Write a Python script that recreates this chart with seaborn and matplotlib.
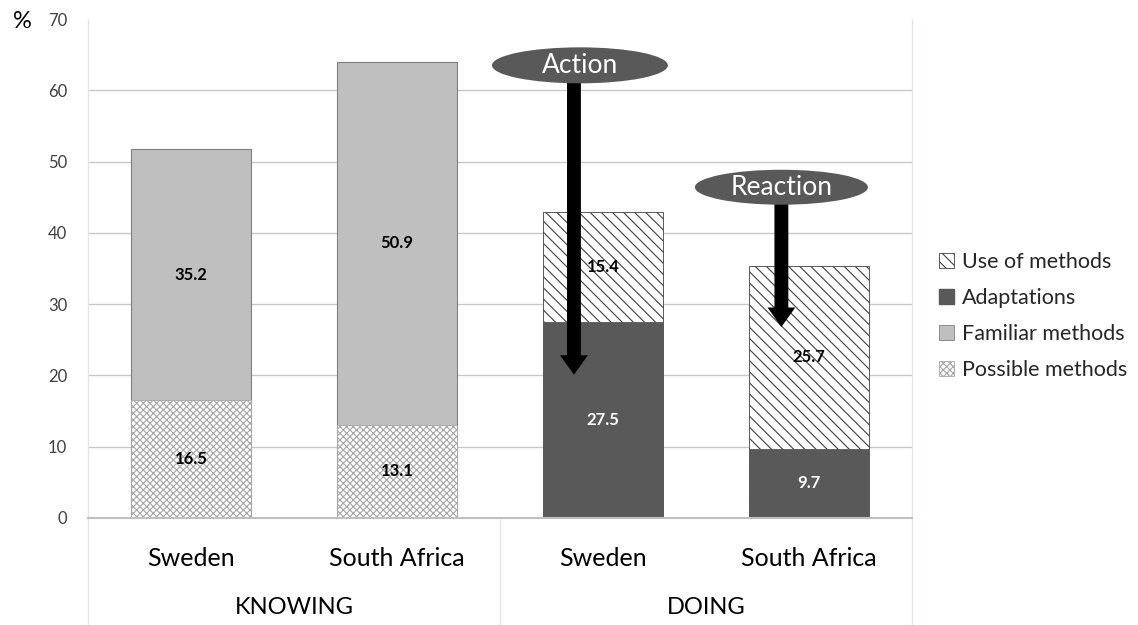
import matplotlib
matplotlib.use("Agg")
import matplotlib.pyplot as plt
import seaborn as sns
import pandas as pd
from matplotlib.patches import Ellipse, Patch, ArrowStyle

# ---- data ----
groups = ["KNOWING", "KNOWING", "DOING", "DOING"]
countries = ["Sweden", "South Africa", "Sweden", "South Africa"]
possible_methods = [16.5, 13.1]      # KNOWING bottom
familiar_methods = [35.2, 50.9]      # KNOWING top
adaptations = [27.5, 9.7]            # DOING bottom
use_of_methods = [15.4, 25.7]        # DOING top
yticks = [0, 10, 20, 30, 40, 50, 60, 70]

cat_keys = [f"{g} {c}" for g, c in zip(groups, countries)]
know_keys = cat_keys[:2]
do_keys = cat_keys[2:]

sns.set_theme(style="white")
plt.rcParams["font.family"] = ["Lato", "DejaVu Sans"]
plt.rcParams["hatch.linewidth"] = 0.8

fig = plt.figure(figsize=(11.38, 6.25), dpi=100)
ax = fig.add_axes([88 / 1138, 1 - 518 / 625, 824 / 1138, 499 / 625])

C_FAM = "#bfbfbf"
C_ADA = "#595959"
W = 0.58

# top series drawn as cumulative totals first, then bottoms over them
know_tot = pd.DataFrame({"cat": know_keys,
                         "v": [a + b for a, b in zip(possible_methods, familiar_methods)]})
do_tot = pd.DataFrame({"cat": do_keys,
                       "v": [a + b for a, b in zip(adaptations, use_of_methods)]})
know_bot = pd.DataFrame({"cat": know_keys, "v": possible_methods})
do_bot = pd.DataFrame({"cat": do_keys, "v": adaptations})

sns.barplot(data=know_tot, x="cat", y="v", order=cat_keys, color=C_FAM,
            saturation=1, width=W, edgecolor="#7f7f7f", linewidth=0.8,
            errorbar=None, ax=ax, zorder=2)
sns.barplot(data=do_tot, x="cat", y="v", order=cat_keys, color="white",
            saturation=1, width=W, edgecolor="#404040", linewidth=0.6,
            hatch="\\\\\\", errorbar=None, ax=ax, zorder=2)
sns.barplot(data=know_bot, x="cat", y="v", order=cat_keys, color="white",
            saturation=1, width=W, edgecolor="#a6a6a6", linewidth=0.6,
            hatch="xxxxx", errorbar=None, ax=ax, zorder=3)
sns.barplot(data=do_bot, x="cat", y="v", order=cat_keys, color=C_ADA,
            saturation=1, width=W, edgecolor=C_ADA, linewidth=0.6,
            errorbar=None, ax=ax, zorder=3)

# value labels
lab_kw = dict(ha="center", va="center", fontsize=12, fontweight="bold", zorder=6)
for i, (b, t) in enumerate(zip(possible_methods, familiar_methods)):
    ax.text(i, b / 2, f"{b:.1f}", color="black", **lab_kw)
    ax.text(i, b + t / 2, f"{t:.1f}", color="black", **lab_kw)
for j, (b, t) in enumerate(zip(adaptations, use_of_methods)):
    i = j + 2
    ax.text(i, b / 2, f"{b:.1f}", color="white", **lab_kw)
    ax.text(i, b + t / 2, f"{t:.1f}", color="black", **lab_kw)

# axes styling
ax.set_xlim(-0.5, 3.5)
ax.set_ylim(0, 70)
ax.set_yticks(yticks)
ax.set_yticklabels([str(v) for v in yticks], fontsize=12, color="#404040")
ax.tick_params(axis="y", length=0, pad=15)
for v in yticks[1:-1]:
    ax.axhline(v, color="#c8c8c8", linewidth=1.0, zorder=0)
ax.set_xticks(range(4))
ax.set_xticklabels(countries, fontsize=18, color="black")
ax.tick_params(axis="x", length=0, pad=21)
ax.set_xlabel("")
ax.set_ylabel("")
for s in ["top", "right"]:
    ax.spines[s].set_visible(False)
ax.spines["left"].set_color("#e2e6ea")
ax.spines["left"].set_linewidth(1.0)
ax.spines["bottom"].set_color("#bfbfbf")
ax.spines["bottom"].set_linewidth(1.5)
ax.spines["bottom"].set_zorder(5)

# category separators below the axis
trans = ax.get_xaxis_transform()
for xv in [-0.5, 1.5, 3.5]:
    ax.plot([xv, xv], [0, -0.22], transform=trans, color="#e2e6ea",
            linewidth=1.0, clip_on=False)
ax.plot([3.5, 3.5], [0, 1.0], transform=trans, color="#e2e6ea",
        linewidth=1.0, clip_on=False)
for xc, g in [(0.5, "KNOWING"), (2.5, "DOING")]:
    ax.text(xc, -0.18, g, transform=trans, ha="center", va="center",
            fontsize=17, color="black")

fig.text(22 / 1138, 1 - 22 / 625, "%", fontsize=17, ha="center", va="center",
         color="black")

# Action / Reaction annotations
def callout(xc, yc, w, h, label, ax_x, tip_y):
    e = Ellipse((xc, yc), w, h, facecolor=C_ADA, edgecolor="none", zorder=8,
                clip_on=False)
    ax.add_patch(e)
    ax.text(xc, yc, label, color="white", fontsize=19, ha="center",
            va="center", zorder=9)
    style = ArrowStyle("simple", head_length=0.7, head_width=1.0, tail_width=0.5)
    ax.annotate("", xy=(ax_x, tip_y), xytext=(ax_x, yc - h / 2 + 0.3),
                arrowprops=dict(arrowstyle=style, mutation_scale=20,
                                facecolor="black", edgecolor="none",
                                shrinkA=0, shrinkB=0),
                zorder=7)

callout(1.888, 63.5, 0.854, 5.05, "Action", 1.859, 20.1)
callout(2.866, 46.4, 0.84, 4.9, "Reaction", 2.866, 26.8)

# legend
handles = [
    Patch(facecolor="white", edgecolor="#404040", hatch="\\\\\\", linewidth=0.6,
          label="Use of methods"),
    Patch(facecolor=C_ADA, edgecolor=C_ADA, label="Adaptations"),
    Patch(facecolor=C_FAM, edgecolor="#7f7f7f", linewidth=0.6, label="Familiar methods"),
    Patch(facecolor="white", edgecolor="#a6a6a6", hatch="xxxxx", linewidth=0.6,
          label="Possible methods"),
]
fig.legend(handles=handles, loc="center left",
           bbox_to_anchor=(930 / 1138, 1 - 316 / 625), frameon=False,
           fontsize=15.5, handlelength=0.7, handleheight=0.7,
           handletextpad=0.4, labelspacing=0.75, borderaxespad=0)

fig.savefig("out.png", dpi=100)
